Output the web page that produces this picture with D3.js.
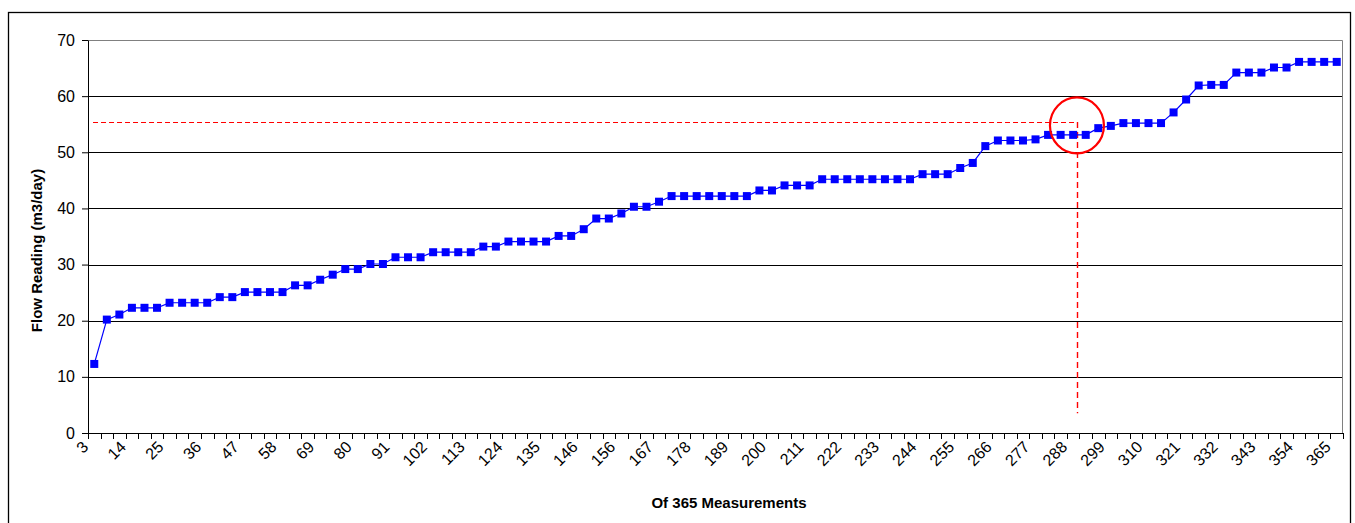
<!DOCTYPE html>
<html>
<head>
<meta charset="utf-8">
<script src="https://cdn.jsdelivr.net/npm/d3@7"></script>
<style>
  body { margin: 0; background: #fff; }
  svg { display: block; font-family: "Liberation Sans", Arial, sans-serif; }
</style>
</head>
<body>
<svg id="chart" width="1355" height="523"></svg>
<script>
// measurement day (of 365) for each of the 100 sorted readings
const days = [
  3, 7, 10, 14, 18, 21, 25, 29, 32, 36,
  40, 43, 47, 51, 54, 58, 62, 65, 69, 73,
  76, 80, 83, 87, 91, 94, 98, 102, 105, 109,
  113, 116, 120, 124, 127, 131, 135, 138, 142, 146,
  149, 153, 156, 160, 164, 167, 171, 175, 178, 182,
  186, 189, 193, 197, 200, 204, 208, 211, 215, 219,
  222, 226, 229, 233, 237, 240, 244, 248, 251, 255,
  259, 262, 266, 270, 273, 277, 281, 284, 288, 292,
  295, 299, 302, 306, 310, 313, 317, 321, 324, 328,
  332, 335, 339, 343, 346, 350, 354, 357, 361, 365
];

const flow = [
  12.3, 20.2, 21.1, 22.3, 22.3, 22.3, 23.2, 23.2, 23.2, 23.2,
  24.2, 24.2, 25.1, 25.1, 25.1, 25.1, 26.3, 26.3, 27.3, 28.2,
  29.2, 29.2, 30.1, 30.1, 31.3, 31.3, 31.3, 32.2, 32.2, 32.2,
  32.2, 33.2, 33.2, 34.1, 34.1, 34.1, 34.1, 35.1, 35.1, 36.3,
  38.2, 38.2, 39.1, 40.3, 40.3, 41.2, 42.2, 42.2, 42.2, 42.2,
  42.2, 42.2, 42.2, 43.2, 43.2, 44.1, 44.1, 44.1, 45.2, 45.2,
  45.2, 45.2, 45.2, 45.2, 45.2, 45.2, 46.1, 46.1, 46.1, 47.2,
  48.1, 51.1, 52.1, 52.1, 52.1, 52.3, 53.1, 53.1, 53.1, 53.1,
  54.3, 54.7, 55.2, 55.2, 55.2, 55.2, 57.1, 59.4, 61.9, 62.0,
  62.0, 64.2, 64.2, 64.2, 65.1, 65.1, 66.1, 66.1, 66.1, 66.1
];

const yTicks = [0, 10, 20, 30, 40, 50, 60, 70];

// annotation: threshold reading and where it meets the sorted curve
const markLevel = 55.4;
const markIndex = 79;

const svg = d3.select("#chart");
const margin = { left: 88, top: 40 };
const plotW = 1343 - margin.left;
const plotH = 433 - margin.top;

// outer chart border
svg.append("rect")
  .attr("x", 8.5).attr("y", 12.5)
  .attr("width", 1342).attr("height", 530)
  .attr("fill", "none").attr("stroke", "#000").attr("stroke-width", 1.3);

const g = svg.append("g").attr("transform", `translate(${margin.left},${margin.top})`);

const x = d3.scaleBand().domain(d3.range(days.length)).range([0, plotW]).padding(0);
const xLin = d3.scaleLinear().domain([0, days.length]).range([0, plotW]);
const y = d3.scaleLinear().domain([0, 70]).range([plotH, 0]);

// gridlines
g.selectAll("line.grid")
  .data(yTicks.filter(t => t > 0 && t < 70))
  .enter().append("line")
  .attr("class", "grid")
  .attr("x1", 0).attr("x2", plotW)
  .attr("y1", d => Math.round(y(d)) + 0.5).attr("y2", d => Math.round(y(d)) + 0.5)
  .attr("stroke", "#000").attr("stroke-width", 1);

// plot area border (top / right) in grey
g.append("path")
  .attr("d", `M0,0.5H${plotW - 0.5}V${plotH}`)
  .attr("fill", "none").attr("stroke", "#808080").attr("stroke-width", 1);

// y axis
const yAxis = g.append("g")
  .call(d3.axisLeft(y).tickValues(yTicks).tickSize(6).tickSizeOuter(0).tickPadding(7));
yAxis.attr("font-size", 16).attr("font-family", null);
yAxis.select(".domain").attr("stroke", "#000");
yAxis.selectAll(".tick line").attr("stroke", "#000");
yAxis.selectAll("text").attr("fill", "#000");

// x axis: tick at every band boundary, label every third reading
const xAxis = g.append("g").attr("transform", `translate(0,${plotH})`);
xAxis.append("line")
  .attr("x1", 0).attr("x2", plotW).attr("y1", 0.5).attr("y2", 0.5)
  .attr("stroke", "#000");
xAxis.selectAll("line.tick")
  .data(d3.range(days.length + 1))
  .enter().append("line")
  .attr("class", "tick")
  .attr("x1", d => Math.round(xLin(d)) + 0.5).attr("x2", d => Math.round(xLin(d)) + 0.5)
  .attr("y1", 0).attr("y2", 6)
  .attr("stroke", "#000");
xAxis.selectAll("text.lbl")
  .data(days.map((d, i) => ({ d, i })).filter(o => o.i % 3 === 0))
  .enter().append("text")
  .attr("class", "lbl")
  .attr("transform", o => `translate(${x(o.i) + x.bandwidth() / 2 - 5},15) rotate(-45)`)
  .attr("text-anchor", "end")
  .attr("font-size", 16)
  .text(o => o.d);

// axis titles
svg.append("text")
  .attr("transform", `translate(42,${margin.top + plotH / 2 + 14}) rotate(-90)`)
  .attr("text-anchor", "middle")
  .attr("font-size", 15).attr("font-weight", "bold")
  .text("Flow Reading (m3/day)");

svg.append("text")
  .attr("x", 729).attr("y", 508)
  .attr("text-anchor", "middle")
  .attr("font-size", 15).attr("font-weight", "bold")
  .text("Of 365 Measurements");

// red dashed guides
const vx = Math.round(xLin(markIndex)) - 2 + 0.5;
g.append("line")
  .attr("x1", xLin(0.4)).attr("x2", vx)
  .attr("y1", Math.round(y(markLevel)) + 0.5).attr("y2", Math.round(y(markLevel)) + 0.5)
  .attr("stroke", "#ff0000").attr("stroke-width", 1).attr("stroke-dasharray", "5,3");
g.append("line")
  .attr("x1", vx).attr("x2", vx)
  .attr("y1", y(markLevel)).attr("y2", y(3.5))
  .attr("stroke", "#ff0000").attr("stroke-width", 1.4).attr("stroke-dasharray", "6,4");

// series line + square markers
const line = d3.line()
  .x((d, i) => x(i) + x.bandwidth() / 2)
  .y(d => y(d));

g.append("path")
  .datum(flow)
  .attr("d", line)
  .attr("fill", "none").attr("stroke", "#0000ff").attr("stroke-width", 1.2);

g.selectAll("rect.pt")
  .data(flow)
  .enter().append("rect")
  .attr("class", "pt")
  .attr("x", (d, i) => x(i) + x.bandwidth() / 2 - 4)
  .attr("y", d => y(d) - 4)
  .attr("width", 8).attr("height", 8)
  .attr("fill", "#0000ff");

// red circle highlighting the crossing
g.append("ellipse")
  .attr("cx", xLin(markIndex) - 2.5)
  .attr("cy", y(markLevel) + 3.5)
  .attr("rx", 27).attr("ry", 28)
  .attr("fill", "none").attr("stroke", "#ff0000").attr("stroke-width", 2.2);
</script>
</body>
</html>
